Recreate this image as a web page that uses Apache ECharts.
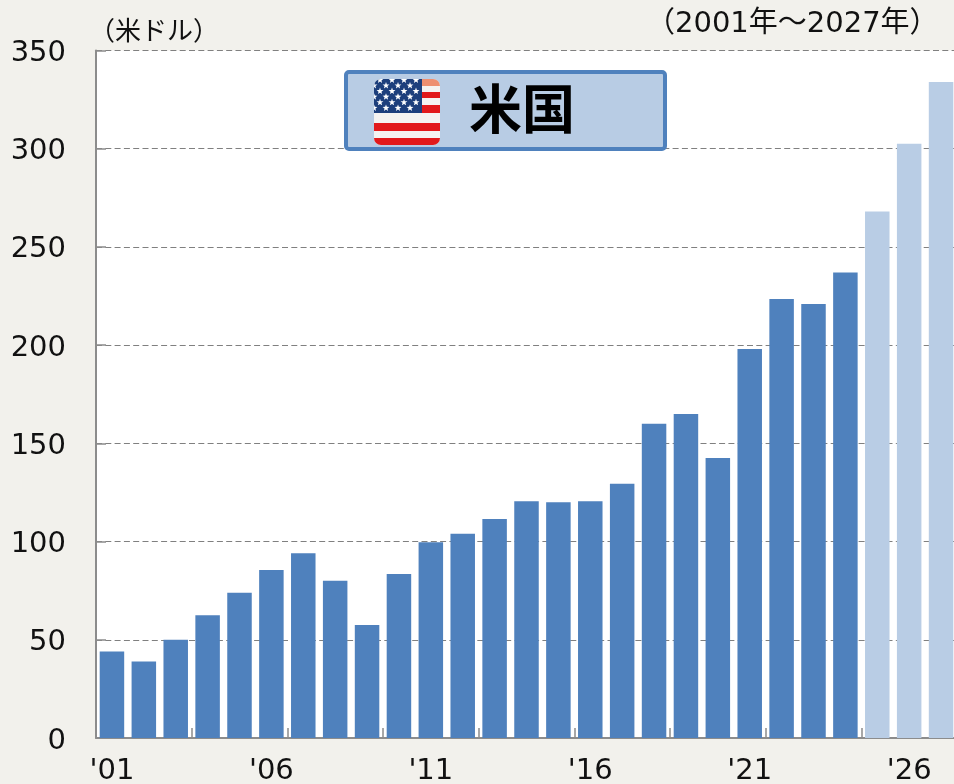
<!DOCTYPE html>
<html>
<head>
<meta charset="utf-8">
<title>米国</title>
<style>
html, body { margin: 0; padding: 0; background: #f2f1ec; overflow: hidden; }
#chart { width: 954px; height: 784px; }
</style>
<script src="https://cdn.jsdelivr.net/npm/echarts@6/dist/echarts.min.js"></script>
</head>
<body>
<div id="chart"></div>
<script>
var years = ["'01", "'02", "'03", "'04", "'05", "'06", "'07", "'08", "'09", "'10",
    "'11", "'12", "'13", "'14", "'15", "'16", "'17", "'18", "'19", "'20",
    "'21", "'22", "'23", "'24", "'25", "'26", "'27"];
var actual = [44, 39, 50, 62.5, 74, 85.5, 94, 80, 57.5, 83.5, 99.7, 104, 111.5, 120.5,
    120, 120.5, 129.5, 160, 165, 142.5, 198, 223.5, 221, 237, null, null, null];
var forecast = [null, null, null, null, null, null, null, null, null, null, null, null,
    null, null, null, null, null, null, null, null, null, null, null, null, 268, 302.5, 334];

var FONT = '"DejaVu Sans", "Noto Sans CJK JP", sans-serif';
var AXIS_GRAY = '#8c8c8c';

function starPoints(cx, cy, r) {
    var pts = [];
    for (var i = 0; i < 10; i++) {
        var rad = i % 2 ? r * 0.42 : r;
        var a = -Math.PI / 2 + i * Math.PI / 5;
        pts.push((cx + rad * Math.cos(a)).toFixed(2) + ',' + (cy + rad * Math.sin(a)).toFixed(2));
    }
    return pts.join(' ');
}

// 国旗アイコン
function flagSvg() {
    var s = '<svg xmlns="http://www.w3.org/2000/svg" width="66" height="66" viewBox="0 0 66 66">';
    s += '<defs><clipPath id="c"><rect width="66" height="66" rx="7"/></clipPath></defs><g clip-path="url(#c)">';
    s += '<rect width="66" height="66" fill="#f5f3f1"/>';
    s += '<rect x="48" width="18" height="7" fill="#ee8f70"/>';
    var reds = [[13, 6], [26, 8], [44, 8], [59, 7]];
    reds.forEach(function (r) {
        s += '<rect y="' + r[0] + '" width="66" height="' + r[1] + '" fill="#e2191b"/>';
    });
    s += '<rect width="48" height="34" fill="#1d3f7c"/>';
    for (var row = 0; row < 6; row++) {
        for (var col = 0; col < 5; col++) {
            var x = (row % 2 ? 0 : 6) + col * 12;
            var y = 1 + row * 5.6;
            if (x < 46) {
                s += '<polygon points="' + starPoints(x, y, 3.6) + '" fill="#ffffff"/>';
            }
        }
    }
    s += '</g></svg>';
    return 'data:image/svg+xml;charset=utf-8,' + encodeURIComponent(s);
}

var chart = echarts.init(document.getElementById('chart'), null, { renderer: 'canvas' });

chart.setOption({
    backgroundColor: '#f2f1ec',
    animation: false,
    grid: {
        left: 96,
        top: 50.5,
        width: 861,
        height: 687.5,
        outerBoundsMode: 'none',
        show: true,
        backgroundColor: '#ffffff',
        borderWidth: 0
    },
    xAxis: {
        type: 'category',
        data: years,
        axisLine: { lineStyle: { color: AXIS_GRAY, width: 2 } },
        axisTick: { show: true, inside: true, length: 10, interval: 2, lineStyle: { color: AXIS_GRAY, width: 1.5 } },
        axisLabel: { interval: 4, color: '#111111', fontFamily: FONT, fontSize: 29, margin: 19 }
    },
    yAxis: {
        type: 'value',
        min: 0,
        max: 350,
        interval: 50,
        axisLine: { show: true, lineStyle: { color: AXIS_GRAY, width: 2 } },
        axisTick: { show: true, inside: true, length: 10, lineStyle: { color: AXIS_GRAY, width: 1.5 } },
        axisLabel: {
            margin: 30,
            formatter: '{v|{value}}',
            rich: { v: { color: '#111111', fontFamily: FONT, fontSize: 29, padding: [6, 0, 0, 0] } }
        },
        splitLine: { show: true, lineStyle: { color: '#808080', width: 1, type: [6, 3.3] } }
    },
    series: [
        {
            name: '実績',
            type: 'bar',
            stack: 'v',
            barWidth: 24.5,
            data: actual,
            itemStyle: { color: '#4f81bd' }
        },
        {
            name: '予測',
            type: 'bar',
            stack: 'v',
            barWidth: 24.5,
            data: forecast,
            itemStyle: { color: '#b9cde5' }
        }
    ],
    graphic: [
        {
            type: 'text', left: 89, top: 17, z: 10,
            style: { text: '（米ドル）', fill: '#111111', font: '26px "Noto Sans CJK JP", sans-serif' }
        },
        {
            type: 'text', left: 646, top: 10, z: 10,
            style: { text: '（2001年～2027年）', fill: '#111111', font: '29px ' + FONT }
        },
        {
            type: 'rect', z: 10,
            shape: { x: 346, y: 72, width: 319, height: 77, r: 3 },
            style: { fill: '#b8cce4', stroke: '#4f81bd', lineWidth: 4 }
        },
        {
            type: 'image', z: 11, left: 374, top: 79,
            style: { image: flagSvg(), width: 66, height: 66 }
        },
        {
            type: 'text', z: 11, left: 469, top: 82,
            style: { text: '米国', fill: '#000000', font: 'bold 53px "Noto Sans CJK JP", sans-serif' }
        }
    ]
});
</script>
</body>
</html>
